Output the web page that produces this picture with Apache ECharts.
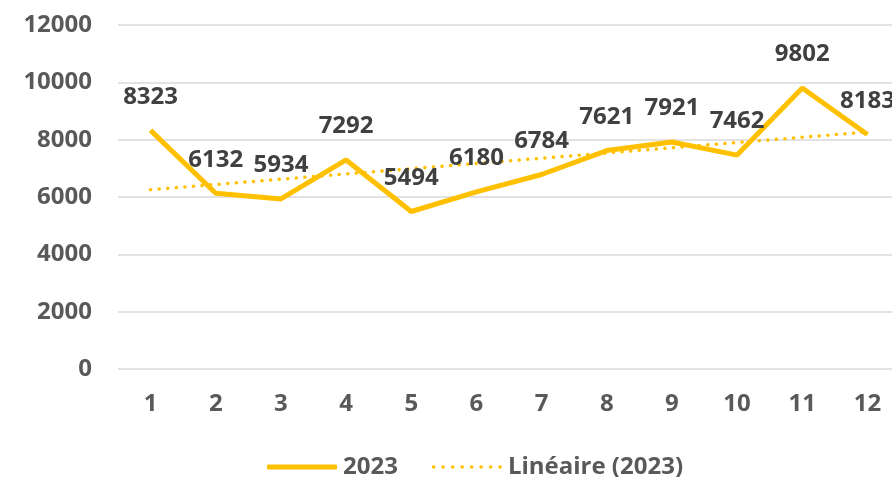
<!DOCTYPE html>
<html lang="fr">
<head>
  <meta charset="UTF-8">
  <title>2023</title>
  <script src="https://cdn.jsdelivr.net/npm/echarts@6/dist/echarts.min.js"></script>
  <style>
    html, body { margin: 0; padding: 0; background: #fff; }
    #main { width: 892px; height: 477px; }
  </style>
</head>
<body>
  <div id="main"></div>
  <script>
    const months = ['1', '2', '3', '4', '5', '6', '7', '8', '9', '10', '11', '12'];
    const values2023 = [8323, 6132, 5934, 7292, 5494, 6180, 6784, 7621, 7921, 7462, 9802, 8183];
    // tendance linéaire
    const trend2023 = [6255, 6438, 6621, 6804, 6987, 7169, 7352, 7535, 7718, 7901, 8084, 8267];

    const yellow = '#FFC000';
    const font = '"Open Sans", "Liberation Sans", sans-serif';

    // icône pointillée pour la légende
    let dots = '';
    for (let i = 0; i < 8; i++) {
      const x = i * 9.3;
      dots += 'M' + x + ',1.75a1.75,1.75 0 1,0 3.5,0a1.75,1.75 0 1,0 -3.5,0z';
    }

    const chart = echarts.init(document.getElementById('main'));

    const option = {
      animation: false,
      textStyle: { fontFamily: font },
      grid: { left: 118, width: 782, top: 25, bottom: 108, containLabel: false, outerBoundsMode: 'none' },
      legend: {
        left: 262,
        top: 450,
        itemWidth: 70,
        itemHeight: 5,
        itemGap: 34,
        textStyle: { fontFamily: font, fontSize: 24, fontWeight: 'bold', color: '#595959', padding: [0, 0, 0, 1] },
        data: [
          { name: '2023', icon: 'roundRect', itemStyle: { color: yellow, opacity: 1 } },
          { name: 'Linéaire (2023)', icon: 'path://' + dots, itemStyle: { color: yellow } }
        ]
      },
      xAxis: {
        type: 'category',
        data: months,
        axisLine: { show: false },
        axisTick: { show: false },
        axisLabel: { margin: 23, fontFamily: font, fontSize: 24, fontWeight: 'bold', color: '#595959' }
      },
      yAxis: {
        type: 'value',
        min: 0,
        max: 12000,
        interval: 2000,
        axisLine: { show: false },
        axisTick: { show: false },
        axisLabel: {
          margin: 26, fontFamily: font, fontSize: 24, fontWeight: 'bold', color: '#595959',
          formatter: v => String(v)
        },
        splitLine: { lineStyle: { color: '#D9D9D9', width: 1.5 } }
      },
      series: [
        {
          name: 'Linéaire (2023)',
          type: 'line',
          data: trend2023,
          symbol: 'none',
          z: 2,
          lineStyle: { color: yellow, width: 3.5, type: [0.1, 8.5], cap: 'round' },
          itemStyle: { color: yellow }
        },
        {
          name: '2023',
          type: 'line',
          data: values2023,
          symbol: 'circle',
          symbolSize: 1,
          z: 3,
          lineStyle: { color: yellow, width: 5 },
          itemStyle: { color: yellow, borderWidth: 0 },
          label: {
            show: true,
            position: 'top',
            distance: 21,
            fontFamily: font,
            fontSize: 24,
            fontWeight: 'bold',
            color: '#404040'
          },
          labelLayout: { hideOverlap: false }
        }
      ]
    };

    chart.setOption(option);
  </script>
</body>
</html>
